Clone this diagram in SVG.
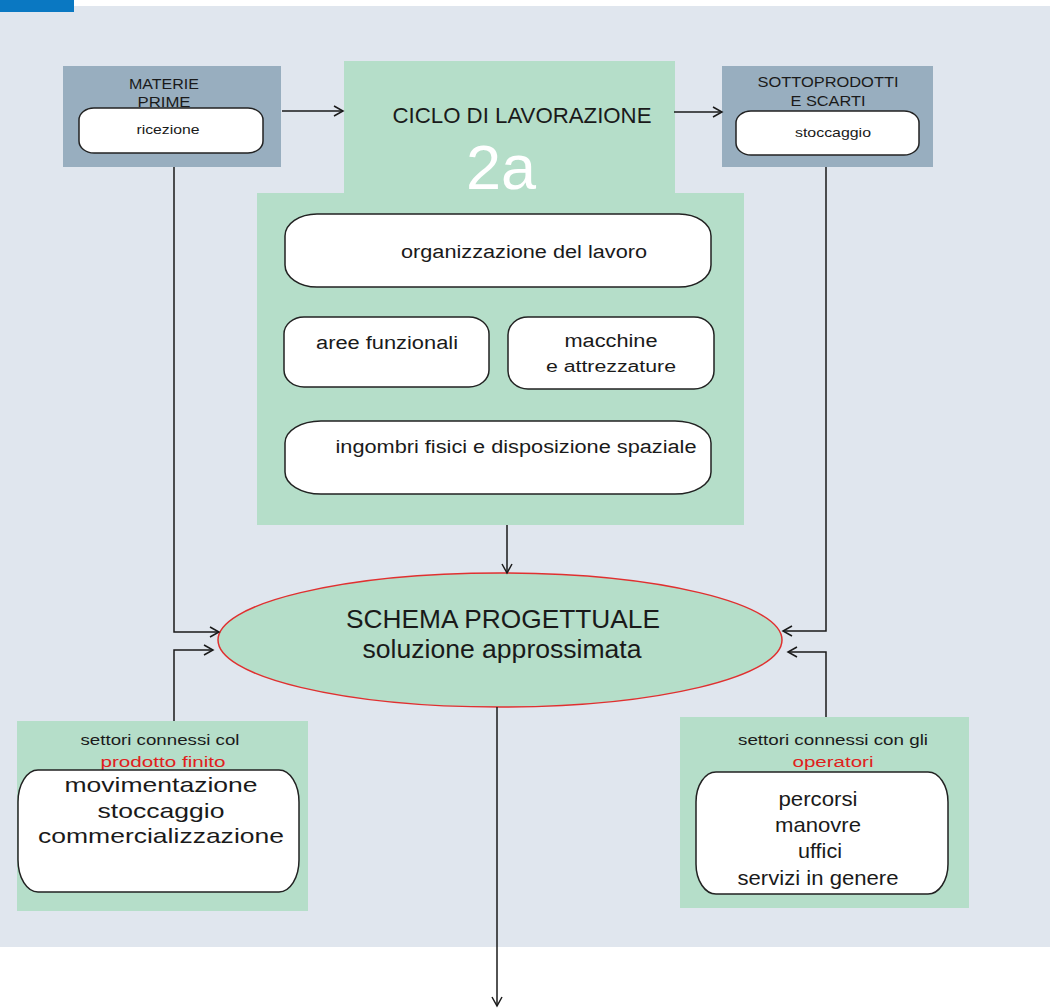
<svg xmlns="http://www.w3.org/2000/svg" width="1050" height="1008" viewBox="0 0 1050 1008">
<style>
text{font-family:"Liberation Sans",Arial,sans-serif;fill:#1a1a1a;text-anchor:middle}
.box{fill:#98aebf}
.grn{fill:#b5dec9}
.pill{fill:#ffffff;stroke:#222;stroke-width:1.5}
.ln{fill:none;stroke:#1a1a1a;stroke-width:1.5}
.red{fill:#e0201c}
</style>
<defs>
<marker id="arr" markerUnits="userSpaceOnUse" markerWidth="12" markerHeight="12" refX="10" refY="6" orient="auto">
<path d="M1,1 L10,6 L1,11" fill="none" stroke="#1a1a1a" stroke-width="1.5"/>
</marker>
</defs>
<rect x="0" y="0" width="1050" height="1008" fill="#ffffff"/>
<rect x="0" y="6" width="1050" height="941" fill="#e0e6ee"/>
<rect x="0" y="0" width="74" height="12" fill="#0a78c2"/>

<g id="materie-prime">
<rect class="box" x="63" y="66" width="218" height="101"/>
<text x="164" y="89" font-size="15" textLength="70" lengthAdjust="spacingAndGlyphs">MATERIE</text>
<text x="164" y="107" font-size="15" textLength="53" lengthAdjust="spacingAndGlyphs">PRIME</text>
<rect class="pill" x="79" y="108" width="184" height="45" rx="15" ry="12"/>
<text x="168" y="134" font-size="13" textLength="63" lengthAdjust="spacingAndGlyphs">ricezione</text>
</g>

<g id="sottoprodotti">
<rect class="box" x="722" y="66" width="211" height="101"/>
<text x="828" y="87" font-size="15" textLength="141" lengthAdjust="spacingAndGlyphs">SOTTOPRODOTTI</text>
<text x="828" y="106" font-size="15" textLength="75" lengthAdjust="spacingAndGlyphs">E SCARTI</text>
<rect class="pill" x="736" y="111" width="183" height="44" rx="15" ry="12"/>
<text x="833" y="137" font-size="13" textLength="76" lengthAdjust="spacingAndGlyphs">stoccaggio</text>
</g>

<g id="ciclo-lavorazione">
<rect class="grn" x="344" y="61" width="331" height="133"/>
<rect class="grn" x="257" y="193" width="487" height="332"/>
<text x="522" y="123" font-size="22" textLength="259" lengthAdjust="spacingAndGlyphs">CICLO DI LAVORAZIONE</text>
<text x="501" y="189" font-size="63" style="fill:#ffffff">2a</text>
</g>

<g id="organizzazione">
<rect class="pill" x="285" y="214" width="426" height="73" rx="32" ry="22"/>
<text x="524" y="258" font-size="18" textLength="246" lengthAdjust="spacingAndGlyphs">organizzazione del lavoro</text>
</g>

<g id="aree-funzionali">
<rect class="pill" x="284" y="317" width="205" height="70" rx="20" ry="17"/>
<text x="387" y="349" font-size="18" textLength="142" lengthAdjust="spacingAndGlyphs">aree funzionali</text>
</g>

<g id="macchine">
<rect class="pill" x="508" y="317" width="206" height="72" rx="20" ry="18"/>
<text x="611" y="347" font-size="18" textLength="93" lengthAdjust="spacingAndGlyphs">macchine</text>
<text x="611" y="372" font-size="16" textLength="130" lengthAdjust="spacingAndGlyphs">e attrezzature</text>
</g>

<g id="ingombri">
<rect class="pill" x="285" y="421" width="426" height="73" rx="36" ry="22"/>
<text x="516" y="453" font-size="18" textLength="361" lengthAdjust="spacingAndGlyphs">ingombri fisici e disposizione spaziale</text>
</g>

<g id="schema-progettuale">
<ellipse cx="500" cy="640" rx="282" ry="67" fill="#b5dec9" stroke="#e03030" stroke-width="1.5"/>
<text x="503" y="628" font-size="26" textLength="314" lengthAdjust="spacingAndGlyphs">SCHEMA PROGETTUALE</text>
<text x="502" y="658" font-size="25" textLength="279" lengthAdjust="spacingAndGlyphs">soluzione approssimata</text>
</g>

<g id="prodotto-finito">
<rect class="grn" x="17" y="721" width="291" height="190"/>
<text x="160" y="745" font-size="14" textLength="159" lengthAdjust="spacingAndGlyphs">settori connessi col</text>
<text x="163" y="767" font-size="14" class="red" textLength="125" lengthAdjust="spacingAndGlyphs">prodotto finito</text>
<rect class="pill" x="18" y="770" width="281" height="122" rx="20" ry="32"/>
<text x="161" y="792" font-size="21" textLength="193" lengthAdjust="spacingAndGlyphs">movimentazione</text>
<text x="161" y="818" font-size="21" textLength="127" lengthAdjust="spacingAndGlyphs">stoccaggio</text>
<text x="161" y="843" font-size="21" textLength="246" lengthAdjust="spacingAndGlyphs">commercializzazione</text>
</g>

<g id="operatori">
<rect class="grn" x="680" y="717" width="289" height="191"/>
<text x="833" y="745" font-size="14" textLength="190" lengthAdjust="spacingAndGlyphs">settori connessi con gli</text>
<text x="833" y="767" font-size="14" class="red" textLength="81" lengthAdjust="spacingAndGlyphs">operatori</text>
<rect class="pill" x="696" y="772" width="252" height="122" rx="20" ry="30"/>
<text x="818" y="806" font-size="21" textLength="79" lengthAdjust="spacingAndGlyphs">percorsi</text>
<text x="818" y="832" font-size="21" textLength="86" lengthAdjust="spacingAndGlyphs">manovre</text>
<text x="820" y="858" font-size="21" textLength="44" lengthAdjust="spacingAndGlyphs">uffici</text>
<text x="818" y="885" font-size="21" textLength="161" lengthAdjust="spacingAndGlyphs">servizi in genere</text>
</g>

<g id="connectors">
<path class="ln" d="M282,111 L343,111" marker-end="url(#arr)"/>
<path class="ln" d="M674,112 L722,112" marker-end="url(#arr)"/>
<path class="ln" d="M507,525 L507,573" marker-end="url(#arr)"/>
<path class="ln" d="M174,167 L174,632 L219,632" marker-end="url(#arr)"/>
<path class="ln" d="M174,721 L174,650 L213,650" marker-end="url(#arr)"/>
<path class="ln" d="M826,167 L826,631 L783,631" marker-end="url(#arr)"/>
<path class="ln" d="M826,717 L826,652 L788,652" marker-end="url(#arr)"/>
<path class="ln" d="M497,707 L497,1006" marker-end="url(#arr)"/>
</g>
</svg>
